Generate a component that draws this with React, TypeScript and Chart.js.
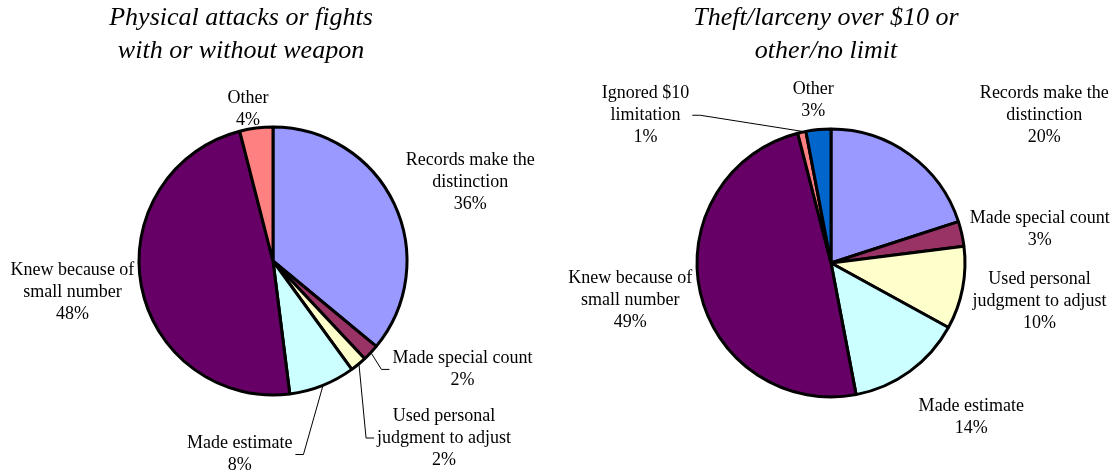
import React, { useEffect, useRef } from 'react';
import { Chart, registerables } from 'chart.js';

Chart.register(...registerables);

const SERIF = '"Liberation Serif", "Times New Roman", serif';

// ---------- data ----------
const leftTitle = ['Physical attacks or fights', 'with or without weapon'];
const leftCategories = [
  'Records make the\ndistinction',
  'Made special count',
  'Used personal\njudgment to adjust',
  'Made estimate',
  'Knew because of\nsmall number',
  'Other',
];
const leftValues = [36, 2, 2, 8, 48, 4];

const rightTitle = ['Theft/larceny over $10 or', 'other/no limit'];
const rightCategories = [
  'Records make the\ndistinction',
  'Made special count',
  'Used personal\njudgment to adjust',
  'Made estimate',
  'Knew because of\nsmall number',
  'Ignored $10\nlimitation',
  'Other',
];
const rightValues = [20, 3, 10, 14, 49, 1, 3];

// ---------- styles / placement ----------
const leftColors = ['#9999FF', '#993366', '#FFFFCC', '#CCFFFF', '#660066', '#FF8080'];
const rightColors = ['#9999FF', '#993366', '#FFFFCC', '#CCFFFF', '#660066', '#FF8080', '#0066CC'];

type Side = 'left' | 'right' | null;

interface PieCfg {
  title: string[];
  categories: string[];
  values: number[];
  colors: string[];
  left: number;
  padding: { left: number; right: number; top: number; bottom: number };
  titleX: number;
  // label block centre offset from the slice's outer mid point
  offsets: [number, number][];
  leaders: Side[];
}

const leftCfg: PieCfg = {
  title: leftTitle,
  categories: leftCategories,
  values: leftValues,
  colors: leftColors,
  left: 0,
  padding: { left: 0, right: 11, top: 48, bottom: 0 },
  titleX: 241,
  offsets: [
    [75, -21],
    [91, 16],
    [85, 73],
    [-83, 68],
    [-68, 6],
    [-8, -18],
  ],
  leaders: [null, 'left', 'left', 'right', null, null],
};

const rightCfg: PieCfg = {
  title: rightTitle,
  categories: rightCategories,
  values: rightValues,
  colors: rightColors,
  left: 557,
  padding: { left: 0, right: 9, top: 52, bottom: 0 },
  titleX: 269,
  offsets: [
    [134, -39],
    [77, -4],
    [76, 13],
    [61, 45],
    [-69, 8],
    [-156, -16],
    [-5, -28],
  ],
  leaders: [null, null, null, null, null, 'right', null],
};

const LABEL_SIZE = 18;
const LABEL_LH = 22;
const TITLE_SIZE = 26;
const TITLE_BASELINES = [25, 58];

function makePlugin(cfg: PieCfg) {
  return {
    id: 'pieDecor',
    afterDraw(chart: any) {
      const ctx: CanvasRenderingContext2D = chart.ctx;
      ctx.save();
      // title
      ctx.fillStyle = '#000';
      ctx.textAlign = 'center';
      ctx.textBaseline = 'alphabetic';
      ctx.font = `italic ${TITLE_SIZE}px ${SERIF}`;
      cfg.title.forEach((t, i) => ctx.fillText(t, cfg.titleX, TITLE_BASELINES[i]));

      // labels
      ctx.font = `${LABEL_SIZE}px ${SERIF}`;
      ctx.textBaseline = 'middle';
      const meta = chart.getDatasetMeta(0);
      meta.data.forEach((arc: any, i: number) => {
        const p = arc.getProps(['x', 'y', 'startAngle', 'endAngle', 'outerRadius'], true);
        const mid = (p.startAngle + p.endAngle) / 2;
        const r = p.outerRadius + 1;
        const px = p.x + r * Math.cos(mid);
        const py = p.y + r * Math.sin(mid);
        const [dx, dy] = cfg.offsets[i];
        const cx = px + dx;
        const cy = py + dy;
        const lines = [...cfg.categories[i].split('\n'), `${cfg.values[i]}%`];
        const top = cy - ((lines.length - 1) * LABEL_LH) / 2;
        let maxW = 0;
        lines.forEach((l, k) => {
          maxW = Math.max(maxW, ctx.measureText(l).width);
          ctx.fillText(l, cx, top + k * LABEL_LH);
        });
        const side = cfg.leaders[i];
        if (side) {
          const edge = side === 'left' ? cx - maxW / 2 - 3 : cx + maxW / 2 + 3;
          const elbow = side === 'left' ? edge - 8 : edge + 8;
          ctx.beginPath();
          ctx.strokeStyle = '#000';
          ctx.lineWidth = 1;
          ctx.moveTo(px, py);
          ctx.lineTo(elbow, cy);
          ctx.lineTo(edge, cy);
          ctx.stroke();
        }
      });
      ctx.restore();
    },
  };
}

function PieChart({ cfg }: { cfg: PieCfg }) {
  const ref = useRef<HTMLCanvasElement>(null);
  useEffect(() => {
    if (!ref.current) return;
    const chart = new Chart(ref.current, {
      type: 'pie',
      data: {
        labels: cfg.categories,
        datasets: [
          {
            data: cfg.values,
            backgroundColor: cfg.colors,
            borderColor: '#000000',
            borderWidth: 3,
            radius: 134,
            hoverOffset: 0,
          } as any,
        ],
      },
      options: {
        responsive: false,
        animation: false,
        devicePixelRatio: 1,
        layout: { padding: cfg.padding },
        plugins: {
          legend: { display: false },
          tooltip: { enabled: false },
          title: { display: false },
        },
        events: [],
      },
      plugins: [makePlugin(cfg)],
    });
    return () => chart.destroy();
  }, [cfg]);
  return (
    <canvas
      ref={ref}
      width={557}
      height={474}
      style={{ position: 'absolute', left: cfg.left, top: 0, width: 557, height: 474 }}
    />
  );
}

export default function App() {
  return (
    <div style={{ position: 'absolute', left: 0, top: 0, width: 1114, height: 474, background: '#fff' }}>
      <PieChart cfg={leftCfg} />
      <PieChart cfg={rightCfg} />
    </div>
  );
}
